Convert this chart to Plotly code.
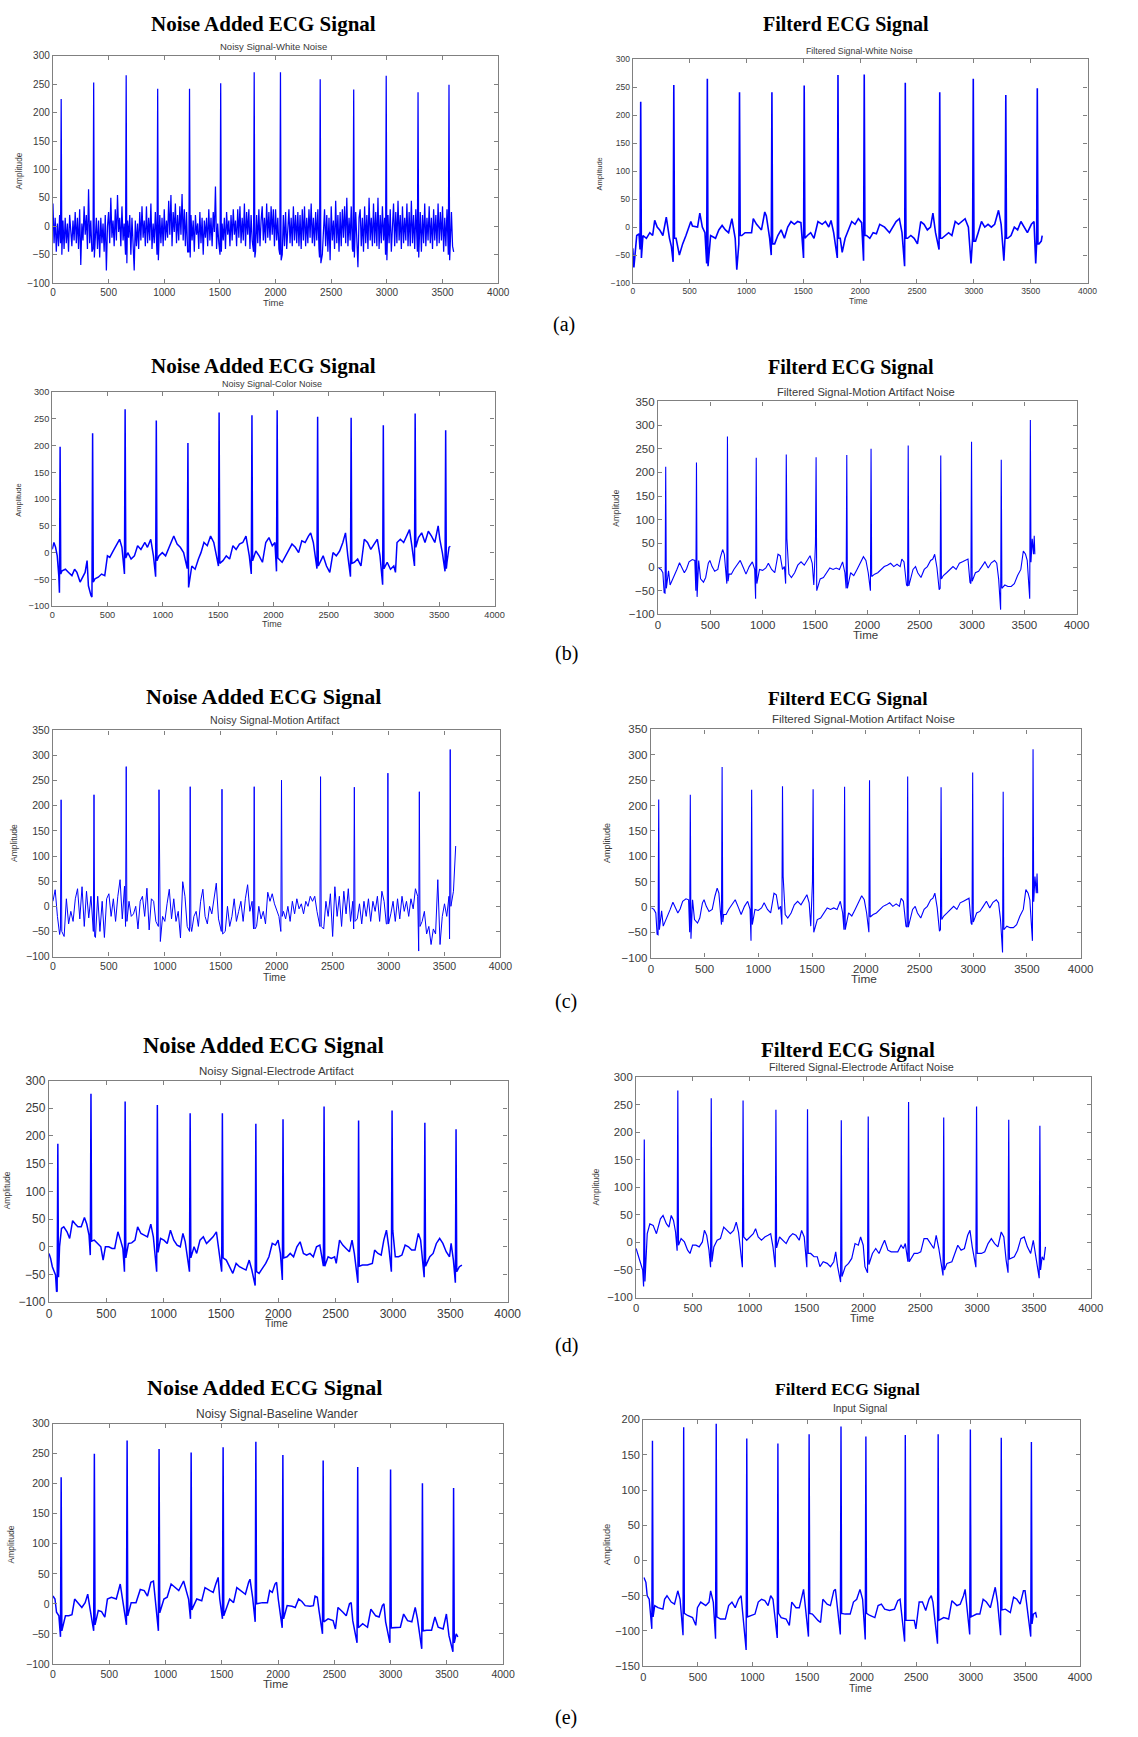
import plotly.graph_objects as go

# ---------------- data ----------------
WHITE_STEP = 10   # sample spacing of the dense white-noise trace
MOTION_STEP = 20  # sample spacing of the noisy motion-artifact trace

# (a) Noisy signal - white noise : values on a 10-unit grid from t=0 to 3600
A_NOISY_V = [
    40, -30, 15, -45, 5, -35, 20, -10, -25, 10, -40, 15, -30, 5, -45, 20, -20, -35, 10, -25,
    25, -30, 15, -40, 30, -68, 5, -25, 35, -15, 20, -40, 65, -30, 10, -45, 30, -60, -20, 15,
    -40, 10, -55, 15, -30, 5, -45, 20, -78, 0, 25, -30, 50, -20, 10, -35, 30, -25, 55, -10,
    15, -35, 35, -25, 5, -45, -65, 10, -20, 20, -50, 15, -30, -78, 10, -35, 5, -40, 25, -25,
    35, -20, 10, -35, 35, -30, 15, -25, 40, -40, 5, -30, 25, -45, -15, -78, 20, -30, 15, -35,
    30, -25, 10, -20, 45, -15, 55, -35, 25, -10, 40, -30, 20, -25, 35, -15, 57, -25, 30, -35,
    25, -45, 15, -62, 20, -25, 10, -45, 20, -15, 5, -40, 25, -30, 15, -50, 10, -20, 15, -35,
    30, -25, 15, -35, 25, -10, 70, -40, 5, -30, 20, -50, 5, -25, 15, -40, 25, -15, 10, -35,
    20, -25, 30, -15, 10, -35, 30, -20, 35, -30, 15, -25, 40, -35, 25, -15, 30, -40, 20, -25,
    -60, 15, -45, 20, -30, 30, -35, 10, 35, -25, 15, -30, 40, -20, 25, -25, 35, -15, 30, -35,
    30, -25, 15, -40, -62, 10, -50, 20, -35, 25, -40, 10, 30, -30, 15, -35, 35, -25, 20, -30,
    25, -35, 20, -40, 30, -25, 35, -35, 15, -30, 30, -20, 40, -30, 15, -35, 25, -25, 30, -40,
    -70, 15, -50, 5, 30, -35, 20, -45, 15, -60, 35, -25, 10, -40, 45, -30, 20, -45, 25, -35,
    30, -20, 35, -30, 50, -35, 15, -25, 35, -40, 20, -45, 25, -30, -72, 15, 30, -35, 15, -45,
    35, -30, 20, -40, 50, -25, 15, -35, 40, -30, 25, -35, 50, -40, 20, -30, 35, -25, 15, -50,
    -65, 20, -30, 30, -45, 15, 40, -35, 25, -30, 45, -25, 20, -40, 35, -30, 15, -25, 40, -35,
    25, -35, 45, -30, 20, -40, 30, -25, -58, 15, 25, -45, 20, -30, 40, -35, 15, -25, 35, -30,
    15, -40, 30, -25, 20, -35, 40, -30, 25, -25, 35, -45, 15, -35, 30, -68, 15, -30, 25, -35,
    -45,
]
# beats: (R time, Q value, R peak, S value)
A_NOISY_BEATS = [(74, -30, 224, -50), (366, -40, 253, -55), (658, -50, 266, -65), (941, -50, 242, -60),
                 (1227, -45, 242, -55), (1507, -50, 252, -45), (1808, -45, 271, -55), (2044, -50, 271, -60),
                 (2401, -55, 259, -65), (2702, -45, 241, -55), (2994, -50, 265, -60), (3280, -45, 236, -55),
                 (3558, -50, 249, -60)]

# (a) Filtered signal - white noise
A_FILT_BASE = [(0, -38), (10, -72), (35, -15), (55, -12), (90, -15), (120, -20), (150, -10), (175, -15),
               (193, 12), (215, 0), (237, -5), (265, -15), (295, 18), (323, -20), (340, -35), (381, -20),
               (410, -50), (439, -30), (468, -15), (497, 0), (511, 10), (525, 2), (570, 0), (590, 25),
               (612, 0), (635, -10), (685, -15), (728, -20), (757, -5), (786, 3), (815, -5), (843, -10),
               (872, 15), (901, -20), (915, -76), (959, -15), (988, -10), (1045, -10), (1060, 15), (1089, 5),
               (1132, -5), (1161, 27), (1175, 20), (1204, -20), (1248, -30), (1276, -15), (1305, -5),
               (1334, -20), (1363, 0), (1392, 10), (1421, 5), (1450, 10), (1479, 8), (1536, -15), (1565, -10),
               (1594, -20), (1629, 10), (1666, 5), (1695, 10), (1724, 0), (1744, 12), (1767, -10), (1825, -20),
               (1842, -45), (1868, -20), (1897, -5), (1926, 10), (1955, 5), (1984, 15), (2013, 8), (2056, -15),
               (2085, -20), (2114, -10), (2143, -12), (2172, 5), (2215, 0), (2258, -10), (2287, 0), (2316, 10),
               (2345, 15), (2368, -10), (2417, -20), (2446, -15), (2475, -20), (2504, -30), (2533, 10),
               (2562, 5), (2591, -5), (2619, 0), (2640, 25), (2663, -10), (2720, -20), (2749, -15),
               (2778, -10), (2807, -15), (2836, 10), (2865, 5), (2894, 10), (2923, 15), (2952, 0), (2975, -65),
               (3015, -25), (3038, -10), (3067, 10), (3096, 0), (3125, 5), (3154, 0), (3183, 5), (3217, 30),
               (3240, 5), (3264, -60), (3298, -20), (3327, -15), (3356, 0), (3385, -5), (3414, 10), (3442, 0),
               (3471, -10), (3506, 5), (3529, 10), (3544, -65), (3573, -30), (3593, -25), (3601, -15)]
A_FILT_BEATS = [(70, -40, 224, -55), (361, -62, 254, -20), (656, -65, 265, -70), (939, -30, 241, -15),
                (1224, -50, 241, -30), (1508, -55, 253, -20), (1805, -55, 272, -20), (2036, -60, 273, -15),
                (2397, -70, 258, -20), (2700, -40, 241, -20), (2995, -20, 265, -25), (3281, -15, 236, -20),
                (3558, -30, 248, -30)]

# (b) Noisy signal - color noise
B_NOISY_BASE = [(0, 6), (15, 19), (30, 10), (45, -6), (59, -43), (89, -34), (119, -31), (148, -37), (178, -43),
                (202, -31), (223, -37), (252, -55), (282, -43), (297, -37), (315, -15), (327, -62), (350, -80),
                (386, -49), (416, -46), (446, -40), (475, -43), (499, -6), (520, -9), (550, 3), (579, 13),
                (609, 25), (630, 10), (683, 0), (713, -12), (743, -6), (772, 13), (802, 6), (838, 19), (861, 10),
                (891, 25), (915, -6), (965, -6), (995, 0), (1025, -6), (1054, 10), (1084, 25), (1099, 31),
                (1129, 16), (1158, 10), (1188, 0), (1262, -25), (1292, -31), (1322, -12), (1345, 0), (1372, 19),
                (1402, 13), (1432, 31), (1461, 19), (1485, -6), (1544, -15), (1574, -6), (1604, -12), (1634, 13),
                (1663, 6), (1693, 16), (1723, 19), (1752, 31), (1782, -6), (1841, 3), (1871, -6), (1901, -18),
                (1931, 19), (1960, 28), (1990, 13), (2014, 19), (2079, -18), (2109, -6), (2138, 3), (2168, 16),
                (2198, 10), (2228, 0), (2257, 22), (2287, 19), (2317, 31), (2337, 37), (2361, 19), (2450, -6),
                (2480, -25), (2510, -37), (2539, 0), (2569, -6), (2599, 3), (2628, 19), (2652, 37), (2673, -6),
                (2732, -18), (2762, -12), (2792, -25), (2822, 25), (2851, 19), (2881, 6), (2911, 16), (2940, 25),
                (2964, -6), (3029, -18), (3059, -31), (3089, -25), (3104, -37), (3118, 19), (3148, 25),
                (3178, 19), (3208, 31), (3231, 43), (3252, 13), (3312, 28), (3341, 37), (3371, 19), (3401, 40),
                (3430, 31), (3460, 19), (3490, 50), (3505, 25), (3528, 0), (3570, -18), (3588, 10), (3600, 12)]
B_NOISY_BEATS = [(71, -75, 198, -40), (365, -83, 223, -55), (659, -40, 268, -10), (941, -45, 247, -15),
                 (1227, -30, 205, -65), (1509, -25, 262, -20), (1806, -40, 257, -15), (2034, -35, 266, -10),
                 (2400, -30, 254, -25), (2703, -45, 252, -20), (2994, -60, 238, -30), (3282, -25, 260, 10),
                 (3558, -35, 229, -30)]

# (b)/(c) Filtered signal - motion artifact noise (same trace in both rows)
MOTION_FILT_BASE = [(6, -2), (28, -5), (46, -12), (58, -54), (100, -8), (115, -38), (128, -32), (159, -18),
                    (180, -5), (205, 9), (229, -2), (251, -12), (272, -4), (296, 11), (327, 16), (351, 14),
                    (388, 14), (406, -25), (434, -32), (455, -22), (480, 8), (495, 14), (516, 1), (541, -9),
                    (571, -5), (596, 21), (617, 37), (633, 27), (648, -12), (678, -15), (700, -15), (724, -5),
                    (755, 4), (785, 14), (816, -2), (840, -15), (871, 1), (901, 11), (923, -5), (969, -5),
                    (999, -7), (1030, -2), (1054, 8), (1085, -5), (1115, -12), (1146, 27), (1167, 24),
                    (1189, -5), (1207, 1), (1250, -15), (1274, -22), (1305, -12), (1335, 4), (1366, 11),
                    (1397, 4), (1427, 14), (1452, 24), (1473, 8), (1488, -38), (1549, -25), (1580, -22),
                    (1610, -12), (1641, -2), (1672, -5), (1702, -2), (1733, -5), (1763, 11), (1785, -12),
                    (1840, -12), (1870, -18), (1901, -5), (1931, 8), (1962, 22), (1986, 14), (2008, -12),
                    (2069, -15), (2099, -12), (2130, -5), (2161, 1), (2191, 4), (2222, 8), (2252, 1), (2283, 6),
                    (2313, 1), (2329, 17), (2350, 11), (2374, -38), (2436, -5), (2460, 1), (2481, -12),
                    (2512, -22), (2543, -5), (2573, 1), (2604, 14), (2625, 17), (2643, 27), (2665, -2),
                    (2686, -48), (2726, -18), (2757, -12), (2787, -5), (2818, 1), (2848, -5), (2879, 8),
                    (2909, 11), (2940, 14), (2961, 17), (2980, -32), (3032, -12), (3062, -9), (3093, 1),
                    (3123, 11), (3154, -2), (3184, 9), (3215, 14), (3236, 8), (3254, -25), (3313, -38),
                    (3343, -41), (3374, -41), (3404, -35), (3435, -18), (3466, -5), (3490, 34), (3511, 27),
                    (3527, 14), (3575, 60), (3587, 27), (3594, 66), (3600, 27)]
MOTION_FILT_BEATS = [(73, -55, 212, -45), (367, -50, 221, -63), (663, -35, 276, -30), (938, -67, 231, -35),
                     (1225, -35, 238, 60), (1510, 50, 232, -50), (1803, -45, 237, -45), (2035, -50, 250, -20),
                     (2390, -40, 257, -40), (2701, -45, 236, -25), (2995, -35, 265, -30), (3279, -90, 227, -45),
                     (3557, -67, 311, 10)]

# (c) Noisy signal - motion artifact : values on a 20-unit grid from t=0 to 3600
C_NOISY_V = [
    10, 33, -20, -56, -10, -60, 15, -35, -10, -30,
    15, 35, -25, 39, -40, 30, -23, 20, -40, -62,
    20, -50, 10, -62, 15, 25, -20, 15, -30, 20,
    53, -25, 40, -40, 10, -20, -15, 0, -45, 10,
    20, -20, 36, -47, 15, 10, -30, -15, -70, -20,
    -30, 5, 34, -25, 15, -30, -10, -63, 49, 20,
    -40, 30, -50, -20, -10, -40, 10, 34, -20, -35,
    0, -15, 20, 46, -25, -50, -10, -50, 0, -40,
    -20, 15, -30, -10, 10, -30, 15, 43, -10, 10,
    -45, -40, 0, -25, -10, -35, 28, 10, 25, 5,
    -10, -20, -45, -10, -25, 0, -30, 10, -15, 15,
    -5, 5, -15, 10, 0, 20, 10, 20, -10, -40,
    -30, -45, 10, -20, 25, -60, 39, -20, 20, -40,
    30, -15, 35, -30, 10, -45, -25, 5, -35, 10,
    -20, 15, -30, 10, -10, 20, -30, 30, 10, -35,
    -40, -15, 10, -30, 15, -25, 20, -10, 10, -20,
    15, -5, 35, 20, -89, -30, -10, -55, -40, -76,
    -45, -55, 53, -76, -20, 5, -20, 20, -65, 30,
    120,
]
C_NOISY_BEATS = [(73, -45, 212, -50), (367, -50, 222, -60), (655, -40, 278, -30), (948, -40, 232, -40),
                 (1227, -50, 238, -40), (1511, -50, 233, -55), (1799, -45, 238, -45), (2043, -50, 251, -20),
                 (2392, -40, 258, -40), (2694, -45, 237, -30), (2994, -35, 265, -35), (3275, -89, 228, -40),
                 (3551, -65, 312, 0)]

# (d) Noisy signal - electrode artifact
D_NOISY_BASE = [(0, -12), (14, -21), (29, -36), (43, -45), (57, -51), (66, -81), (92, 0), (109, 33), (129, 36),
                (157, 27), (180, 15), (206, 47), (229, 41), (252, 36), (281, 36), (309, 53), (329, 41), (349, 21),
                (395, 12), (424, 6), (452, 0), (472, -24), (492, 0), (521, 0), (550, -3), (573, -3), (601, 27),
                (624, 12), (644, -3), (693, 6), (721, 7), (750, 12), (773, 36), (802, 24), (830, 21), (859, 18),
                (888, 41), (910, 18), (973, 15), (1002, 12), (1031, 6), (1059, 30), (1088, 12), (1117, 3),
                (1145, 0), (1168, 24), (1188, 9), (1265, 0), (1288, -12), (1317, 12), (1346, 18), (1374, 6),
                (1403, 12), (1431, 18), (1460, 27), (1483, -6), (1546, -24), (1575, -36), (1603, -48),
                (1632, -30), (1661, -36), (1689, -39), (1718, -42), (1746, -24), (1769, -42), (1832, -48),
                (1861, -39), (1890, -30), (1918, -18), (1947, 6), (1975, 3), (1998, 12), (2018, -12),
                (2076, -18), (2104, -12), (2133, -18), (2162, 0), (2190, 9), (2219, -12), (2247, -15),
                (2276, -12), (2305, -18), (2333, 0), (2362, 3), (2434, -18), (2462, -21), (2491, -18),
                (2505, -30), (2534, 12), (2562, 3), (2591, -3), (2620, -9), (2643, 12), (2663, -12),
                (2734, -33), (2777, -33), (2820, -30), (2840, -6), (2869, -12), (2897, -15), (2920, 12),
                (2943, 30), (2963, 0), (3020, -18), (3049, -18), (3078, -15), (3106, 3), (3135, 0), (3163, -6),
                (3192, -6), (3221, 24), (3241, 12), (3321, -18), (3350, -12), (3378, 6), (3407, 15), (3435, 6),
                (3464, -9), (3493, -18), (3507, 6), (3527, -24), (3579, -36), (3601, -33)]
D_NOISY_BEATS = [(77, -80, 186, -55), (366, -15, 276, 10), (664, -45, 262, -20), (945, -45, 256, -10),
                 (1231, -45, 241, -20), (1512, -45, 241, -20), (1804, -70, 222, -45), (2041, -60, 230, -20),
                 (2399, -35, 253, -35), (2700, -65, 228, -35), (2992, -45, 246, 30), (3278, -55, 224, -35),
                 (3550, -65, 212, -45)]

# (d) Filtered signal - electrode artifact noise
D_FILT_BASE = [(0, -11), (20, -26), (40, -38), (58, -50), (87, -32), (98, 16), (121, 34), (150, 31), (179, 16),
               (214, 43), (237, 49), (266, 34), (289, 28), (309, 49), (329, 40), (347, 19), (396, 7), (425, 1),
               (453, -14), (474, -20), (497, -5), (526, -5), (555, -8), (583, 1), (601, 22), (621, 13),
               (641, -14), (684, -8), (713, 4), (742, 7), (771, 28), (800, 22), (829, 16), (858, 22), (881, 37),
               (901, 19), (973, 4), (1002, 10), (1031, 16), (1051, 25), (1074, 10), (1103, 4), (1132, 10),
               (1161, 13), (1184, 16), (1204, -8), (1262, 10), (1291, 4), (1320, -2), (1349, 10), (1378, 16),
               (1406, 13), (1435, 4), (1456, 22), (1479, 10), (1536, -20), (1565, -26), (1594, -26),
               (1617, -44), (1646, -35), (1681, -38), (1710, -44), (1739, -35), (1756, -17), (1773, -44),
               (1840, -44), (1869, -38), (1897, -29), (1926, -2), (1955, -5), (1975, 10), (1998, -5),
               (2013, -44), (2079, -20), (2108, -11), (2137, -20), (2166, -5), (2186, 4), (2215, -14),
               (2244, -17), (2273, -17), (2302, -17), (2331, -5), (2351, -11), (2368, -2), (2446, -20),
               (2475, -20), (2504, -17), (2533, 7), (2562, 7), (2591, -2), (2619, -11), (2640, 13), (2663, -11),
               (2735, -38), (2778, -35), (2807, -20), (2830, -5), (2859, -14), (2888, -11), (2917, 13),
               (2937, 22), (2957, -8), (3038, -20), (3067, -17), (3096, -2), (3125, 7), (3154, -2), (3183, -8),
               (3212, 19), (3235, 10), (3255, -32), (3327, -26), (3356, -14), (3385, 7), (3414, 10),
               (3442, -8), (3471, -20), (3494, 4), (3514, -20), (3572, -26), (3587, -32), (3601, -8)]
D_FILT_BEATS = [(72, -80, 187, -71), (367, -15, 276, -5), (661, -45, 262, -35), (941, -45, 258, 10),
                (1230, -45, 241, -10), (1508, -45, 242, -20), (1805, -72, 222, -62), (2042, -55, 229, -40),
                (2397, -35, 255, -35), (2706, -60, 227, -50), (2995, -45, 247, -20), (3278, -55, 223, -30),
                (3552, -65, 212, -50)]

# (e) Noisy signal - baseline wander
E_NOISY_BASE = [(0, 13), (18, 8), (32, -14), (53, -20), (111, -20), (140, -20), (169, -18), (193, 8), (222, 2),
                (257, -6), (286, 2), (309, 16), (330, -9), (403, -11), (432, -13), (461, -22), (484, 8),
                (519, 11), (563, 8), (598, 33), (622, 5), (695, 2), (738, 2), (776, 24), (811, 22), (840, 13),
                (870, 36), (893, 38), (907, 8), (986, 8), (1015, 11), (1050, 33), (1088, 27), (1118, 22),
                (1161, 38), (1185, 19), (1205, 8), (1278, 8), (1322, 5), (1351, 27), (1395, 22), (1424, 19),
                (1447, 33), (1468, 44), (1482, 8), (1570, 8), (1605, 2), (1634, 27), (1672, 22), (1710, 16),
                (1739, 36), (1751, 41), (1774, 11), (1862, 2), (1906, 2), (1926, 22), (1949, 19), (1973, 33),
                (1987, 36), (2002, 8), (2081, -3), (2124, -4), (2153, -6), (2183, 8), (2212, 4), (2241, -3),
                (2285, -4), (2314, -3), (2329, 13), (2349, 11), (2364, -11), (2445, -25), (2489, -28),
                (2510, -42), (2533, -6), (2577, -14), (2606, -20), (2635, 0), (2650, 2), (2664, -28),
                (2752, -33), (2795, -39), (2825, -9), (2868, -20), (2898, -22), (2927, -3), (2941, 0),
                (2956, -30), (3043, -39), (3087, -39), (3116, -17), (3151, -28), (3189, -30), (3219, -6),
                (3239, -25), (3321, -44), (3364, -44), (3394, -22), (3423, -39), (3467, -42), (3496, -17),
                (3519, -53), (3583, -50), (3598, -55)]
E_NOISY_BEATS = [(73, -55, 211, -45), (368, -45, 250, -35), (659, -35, 272, -20), (943, -45, 258, -15),
                 (1228, -25, 252, -10), (1512, -25, 261, -20), (1803, -30, 270, 0), (2043, -40, 248, -25),
                 (2401, -50, 239, -30), (2708, -65, 228, -40), (3000, -65, 224, -40), (3283, -75, 201, -45),
                 (3560, -80, 193, -65)]

# (e) Input signal
E_FILT_BASE = [(6, -24), (24, -31), (36, -50), (54, -55), (105, -64), (135, -67), (180, -69), (195, -55),
               (217, -50), (256, -59), (286, -62), (316, -43), (337, -55), (406, -78), (451, -81), (481, -92),
               (496, -67), (526, -59), (572, -64), (602, -59), (617, -43), (641, -59), (707, -83), (752, -83),
               (782, -64), (812, -59), (842, -67), (872, -55), (896, -50), (993, -78), (1023, -76), (1053, -59),
               (1083, -55), (1113, -57), (1143, -64), (1167, -50), (1188, -55), (1263, -81), (1308, -83),
               (1338, -92), (1360, -59), (1399, -67), (1429, -67), (1450, -55), (1468, -41), (1549, -76),
               (1600, -85), (1624, -88), (1645, -55), (1684, -62), (1714, -64), (1745, -43), (1760, -41),
               (1850, -76), (1895, -76), (1925, -59), (1955, -55), (1985, -41), (2009, -55), (2076, -78),
               (2121, -81), (2151, -64), (2181, -62), (2211, -69), (2256, -71), (2301, -69), (2331, -57),
               (2352, -55), (2436, -85), (2482, -85), (2497, -97), (2527, -59), (2557, -59), (2587, -71),
               (2617, -55), (2638, -50), (2653, -59), (2752, -81), (2797, -83), (2827, -57), (2873, -64),
               (2903, -62), (2933, -50), (2948, -41), (3053, -76), (3083, -76), (3113, -55), (3143, -59),
               (3179, -67), (3203, -52), (3224, -38), (3245, -59), (3317, -69), (3362, -74), (3392, -52),
               (3422, -55), (3452, -62), (3482, -43), (3497, -43), (3573, -76), (3594, -74), (3603, -81)]
E_FILT_BEATS = [(84, -97, 170, -80), (370, -106, 189, -75), (668, -111, 194, -80), (948, -127, 173, -80),
                (1233, -110, 166, -75), (1519, -108, 179, -75), (1811, -105, 190, -75), (2039, -112, 176, -75),
                (2400, -115, 178, -85), (2701, -118, 179, -85), (2996, -105, 186, -80), (3279, -106, 174, -70),
                (3555, -108, 168, -90)]

X_TICKS = [0, 500, 1000, 1500, 2000, 2500, 3000, 3500, 4000]
CAPTIONS = ["(a)", "(b)", "(c)", "(d)", "(e)"]
LEFT_TITLE = "Noise Added ECG Signal"
RIGHT_TITLE = "Filterd ECG Signal"


# ---------------- helpers ----------------
def grid(values, step):
    return [(i * step, v) for i, v in enumerate(values)]


def merge(base, beats, dq=6, win=10):
    pts = [(t, v) for t, v in base if all(abs(t - b[0]) > win for b in beats)]
    for t, q, r, s in beats:
        pts += [(t - dq, q), (t, r), (t + dq, s)]
    pts.sort()
    return [p[0] for p in pts], [p[1] for p in pts]


W, H = 1138, 1737

# layout of each panel (pixel boxes in the 1138x1737 page)
PANELS = [
    dict(base=grid(A_NOISY_V, WHITE_STEP), beats=A_NOISY_BEATS, box=(50.7, 49.3, 502.7, 278.3), yr=(-100, 300),
         lw=1.25, tick=10, title=(LEFT_TITLE, 264, 17, 21), sub=("Noisy Signal-White Noise", 275, 40, 9.5),
         time=(275, 298, 9.5), amp=(16, 165, 8.3)),
    dict(base=A_FILT_BASE, beats=A_FILT_BEATS, box=(639.3, 52.7, 1101, 278.3), yr=(-100, 300),
         lw=1.6, tick=8.5, title=(RIGHT_TITLE, 856, 18, 20), sub=("Filtered Signal-White Noise", 869, 44, 8.8),
         time=(868, 296, 8.5), amp=(606, 168, 7.5)),
    dict(base=B_NOISY_BASE, beats=B_NOISY_BEATS, box=(50, 388.3, 499, 604), yr=(-100, 300),
         lw=1.5, tick=9.2, title=(LEFT_TITLE, 264, 362, 21), sub=("Noisy Signal-Color Noise", 273, 380, 9),
         time=(273, 622, 9), amp=(16, 497, 7.5)),
    dict(base=MOTION_FILT_BASE, beats=MOTION_FILT_BEATS, box=(665, 397.7, 1090, 612.3), yr=(-100, 350),
         lw=1.1, tick=11.5, title=(RIGHT_TITLE, 861, 363, 20),
         sub=("Filtered Signal-Motion Artifact Noise", 876, 388, 11.2), time=(876, 633, 11.5), amp=(622, 505, 8.3)),
    dict(base=grid(C_NOISY_V, MOTION_STEP), beats=C_NOISY_BEATS, box=(50.7, 729.3, 505, 957.3), yr=(-100, 350),
         lw=1.0, tick=10.5, title=(LEFT_TITLE, 264, 695, 22), sub=("Noisy Signal-Motion Artifact", 276, 719, 10.6),
         time=(276, 978, 10.4), amp=(11, 843, 8.5)),
    dict(base=MOTION_FILT_BASE, beats=MOTION_FILT_BEATS, box=(657.7, 728.3, 1094, 958.3), yr=(-100, 350),
         lw=1.1, tick=11.5, title=(RIGHT_TITLE, 858, 697, 19.3),
         sub=("Filtered Signal-Motion Artifact Noise", 874, 718, 11.5), time=(874, 980, 11.8), amp=(613, 843, 9)),
    dict(base=D_NOISY_BASE, beats=D_NOISY_BEATS, box=(46.7, 1082.3, 512.3, 1305.7), yr=(-100, 300),
         lw=1.5, tick=12, title=(LEFT_TITLE, 264, 1047, 22.5),
         sub=("Noisy Signal-Electrode Artifact", 278, 1073, 11.5), time=(278, 1327, 10.4), amp=(4, 1193, 8.5)),
    dict(base=D_FILT_BASE, beats=D_FILT_BEATS, box=(642.7, 1079, 1104.3, 1301), yr=(-100, 300),
         lw=1.2, tick=11.3, title=(RIGHT_TITLE, 857.5, 1051, 21),
         sub=("Filtered Signal-Electrode Artifact Noise", 872, 1069, 10.8), time=(872, 1322, 11),
         amp=(602, 1190, 8.3)),
    dict(base=E_NOISY_BASE, beats=E_NOISY_BEATS, box=(50.7, 1428.3, 507.7, 1670.3), yr=(-100, 300),
         lw=1.5, tick=10.5, title=(LEFT_TITLE, 265, 1392, 22), sub=("Noisy Signal-Baseline Wander", 278, 1418, 12),
         time=(277, 1691, 11.5), amp=(8, 1550, 8.5)),
    dict(base=E_FILT_BASE, beats=E_FILT_BEATS, box=(650, 1424, 1093.3, 1672.7), yr=(-150, 200),
         lw=1.4, tick=11, title=(RIGHT_TITLE, 857.5, 1393, 17.5), sub=("Input Signal", 870.5, 1413, 10.3),
         time=(871, 1695, 10.4), amp=(613, 1550, 9.4)),
]
CAPTION_POS = [(570, 320), (572, 652), (572, 1003), (572, 1349), (572, 1724)]

SANS = "Liberation Sans, Arial, sans-serif"
SERIF = "Liberation Serif, Times New Roman, serif"
AXIS_GRAY = "#808080"
TXT_GRAY = "#3a3a3a"

fig = go.Figure()
annotations = []
layout_axes = {}


def px(x):
    return x / W


def py(y):
    return 1 - y / H


for i, p in enumerate(PANELS, start=1):
    xs, ys = merge(p["base"], p["beats"])
    sfx = "" if i == 1 else str(i)
    fig.add_trace(go.Scatter(x=xs, y=ys, mode="lines", line=dict(color="#0000ff", width=p["lw"]),
                             xaxis="x" + sfx, yaxis="y" + sfx, hoverinfo="skip", showlegend=False))
    x0, y0, x1, y1 = p["box"]
    ymin, ymax = p["yr"]
    common = dict(showline=True, mirror="ticks", linecolor=AXIS_GRAY, linewidth=1.3, ticks="inside",
                  ticklen=4, tickcolor=AXIS_GRAY, tickwidth=1, showgrid=False, zeroline=False,
                  tickfont=dict(family=SANS, size=p["tick"], color=TXT_GRAY), fixedrange=True)
    layout_axes["xaxis" + sfx] = dict(domain=[px(x0), px(x1)], range=[0, 4000], tickvals=X_TICKS,
                                      anchor="y" + sfx, **common)
    layout_axes["yaxis" + sfx] = dict(domain=[py(y1), py(y0)], range=[ymin, ymax],
                                      tickvals=list(range(ymin, ymax + 1, 50)), anchor="x" + sfx, **common)
    t, tx, ty, ts = p["title"]
    annotations.append(dict(text="<b>" + t + "</b>", x=px(tx), y=py(ty), xref="paper", yref="paper",
                            showarrow=False, xanchor="center", yanchor="middle",
                            font=dict(family=SERIF, size=ts, color="black")))
    s, sx, sy, ss = p["sub"]
    annotations.append(dict(text=s, x=px(sx), y=py(sy), xref="paper", yref="paper", showarrow=False,
                            xanchor="center", yanchor="middle", font=dict(family=SANS, size=ss, color=TXT_GRAY)))
    tx2, ty2, ts2 = p["time"]
    annotations.append(dict(text="Time", x=px(tx2), y=py(ty2), xref="paper", yref="paper", showarrow=False,
                            xanchor="center", yanchor="middle", font=dict(family=SANS, size=ts2, color=TXT_GRAY)))
    ax_, ay_, as_ = p["amp"]
    annotations.append(dict(text="Amplitude", x=px(ax_), y=py(ay_), xref="paper", yref="paper",
                            showarrow=False, textangle=-90, xanchor="center", yanchor="middle",
                            font=dict(family=SANS, size=as_, color=TXT_GRAY)))

for cap, (cx, cy) in zip(CAPTIONS, CAPTION_POS):
    annotations.append(dict(text=cap, x=px(cx), y=py(cy), xref="paper", yref="paper", showarrow=False,
                            xanchor="center", yanchor="middle", font=dict(family=SERIF, size=20, color="black")))

fig.update_layout(width=W, height=H, margin=dict(l=0, r=0, t=0, b=0), paper_bgcolor="white",
                  plot_bgcolor="white", showlegend=False, annotations=annotations, **layout_axes)

# remove the default page margin so the figure sits exactly in the 1138x1737 window
fig.write_html("out.html", config={"displayModeBar": False},
               post_script="document.body.style.margin='0';document.body.style.overflow='hidden';")
